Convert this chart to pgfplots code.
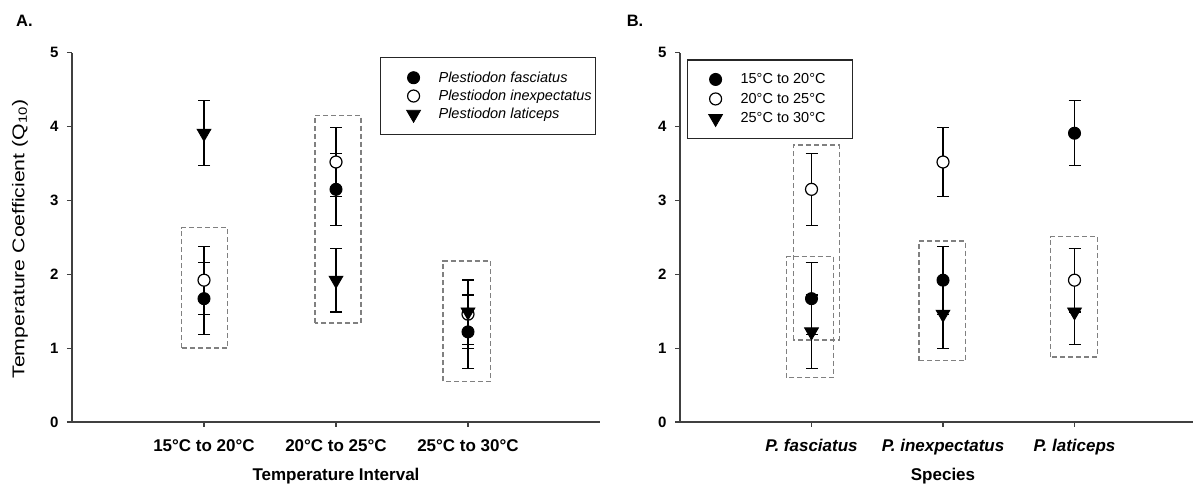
\documentclass[border=0pt]{standalone}
\usepackage{fontspec}
\setmainfont{Liberation Sans}
\usepackage{pgfplots}
\pgfplotsset{compat=1.18}
\usepackage{pgfplotstable}

% Panel A: rows = temperature interval, columns = species (mean, SE)
\pgfplotstableread{
int fas fasE inx inxE lat latE
0 1.67 0.49 1.92 0.46 3.91 0.44
1 3.15 0.49 3.52 0.47 1.92 0.43
2 1.22 0.50 1.46 0.46 1.49 0.44
}\tblA
% Panel B: rows = species, columns = interval (mean, SE)
\pgfplotstableread{
sp ta taE tb tbE tc tcE
0 1.67 0.49 3.15 0.49 1.22 0.50
1 1.92 0.46 3.52 0.47 1.46 0.46
2 3.91 0.44 1.92 0.43 1.49 0.44
}\tblB

\definecolor{axisgray}{gray}{0.25}
\definecolor{boxgray}{gray}{0.5}

\tikzset{dbox/.style={draw=boxgray, line width=1.3pt, dash pattern=on 5pt off 3pt}}

\pgfplotsset{
  legA/.style={legend image code/.code={\path[draw=none,fill=none] (0pt,-6pt) rectangle (54pt,6pt); \draw[##1] plot coordinates {(29pt,0pt)};}},
  legB/.style={legend image code/.code={\path[draw=none,fill=none] (0pt,-6pt) rectangle (49pt,6pt); \draw[##1] plot coordinates {(24pt,0pt)};}},
  panel/.style={
    scale only axis, anchor=south west,
    height=369.3pt,
    xmin=-1, xmax=3, ymin=0, ymax=5,
    axis lines=left, axis line style={-, axisgray, line width=1.2pt},
    tick align=outside, major tick length=5pt,
    tick style={axisgray, line width=1.2pt},
    xtick={0,1,2}, ytick={0,1,2,3,4,5},
    /pgf/number format/assume math mode=true,
    yticklabel style={font=\fontsize{15}{18}\selectfont\bfseries, xshift=-5pt},
    xticklabel style={font=\fontsize{17}{20}\selectfont\bfseries, yshift=-9pt},
    xlabel style={at={(axis description cs:0.5,0)}, anchor=north, yshift=-43pt, font=\fontsize{17}{20}\selectfont\bfseries},
    legend cell align=left,
    legend style={draw=black!85, line width=1.2pt, fill=white, inner xsep=4pt, inner ysep=12.5pt,
      nodes={inner xsep=0pt, inner ysep=0pt, text height=12pt, text depth=3pt}},
    error bars/y dir=both, error bars/y explicit,
    error bars/error bar style={black, line width=1.2pt},
    error bars/error mark options={rotate=90, black, line width=1.2pt, mark size=6pt},
  },
  fillc/.style={black, mark=*, mark size=6pt, mark options={fill=black, draw=black, line width=1pt}},
  openc/.style={black, mark=*, mark size=6pt, mark options={fill=white, draw=black, line width=1.2pt}},
  tri/.style={black, mark=triangle*, mark size=8pt, mark options={fill=black, draw=black, line width=0.8pt, rotate=180}},
}

\begin{document}
\begin{tikzpicture}
\useasboundingbox (0,0) rectangle (1193pt,486pt);
\clip (0,0) rectangle (1193pt,486pt);

\node[font=\fontsize{16.5}{19}\selectfont\bfseries] at (24.5pt,465pt) {A.};
\node[font=\fontsize{16.5}{19}\selectfont\bfseries] at (635pt,465pt) {B.};

% ---------------- Panel A ----------------
\begin{axis}[panel, at={(72pt,64pt)}, width=528pt,
  xticklabels={15°C to 20°C, 20°C to 25°C, 25°C to 30°C},
  xlabel={Temperature Interval},
  ylabel={\scalebox{1.25}[1]{Temperature Coefficient (Q\textsubscript{10})}},
  ylabel style={at={(axis description cs:-0.0985,0.4955)}, anchor=center, font=\fontsize{17}{20}\selectfont},
  every axis plot/.append style={only marks, legA},
  legend style={at={(0.5833,0.988)}, anchor=north west, row sep=3.3pt, font=\fontsize{14.5}{17}\selectfont\itshape},
]
\draw[dbox] (axis cs:-0.17,1.00) rectangle (axis cs:0.18,2.63);
\draw[dbox] (axis cs:0.84,1.34) rectangle (axis cs:1.19,4.15);
\draw[dbox] (axis cs:1.81,0.55) rectangle (axis cs:2.17,2.18);
\addplot[fillc] table[x=int, y=fas, y error=fasE] {\tblA};
\addlegendentry{Plestiodon fasciatus}
\addplot[openc] table[x=int, y=inx, y error=inxE] {\tblA};
\addlegendentry{Plestiodon inexpectatus}
\addplot[tri] table[x=int, y=lat, y error=latE] {\tblA};
\addlegendentry{Plestiodon laticeps}
\end{axis}

% ---------------- Panel B ----------------
\begin{axis}[panel, at={(680pt,64pt)}, width=526pt,
  xticklabels={\itshape P. fasciatus, \itshape P. inexpectatus, \itshape P. laticeps},
  xlabel={Species},
  every axis plot/.append style={only marks, legB},
  legend style={at={(0.0133,0.982)}, anchor=north west, inner ysep=12pt, row sep=4.5pt, font=\fontsize{14.5}{17}\selectfont},
]
\draw[dbox] (axis cs:-0.138,1.11) rectangle (axis cs:0.211,3.75);
\draw[dbox] (axis cs:-0.189,0.60) rectangle (axis cs:0.166,2.24);
\draw[dbox] (axis cs:0.817,0.83) rectangle (axis cs:1.173,2.45);
\draw[dbox] (axis cs:1.817,0.88) rectangle (axis cs:2.173,2.51);
\addplot[fillc] table[x=sp, y=ta, y error=taE] {\tblB};
\addlegendentry{15°C to 20°C\hspace*{23pt}\mbox{}}
\addplot[openc] table[x=sp, y=tb, y error=tbE] {\tblB};
\addlegendentry{20°C to 25°C\hspace*{23pt}\mbox{}}
\addplot[tri] table[x=sp, y=tc, y error=tcE] {\tblB};
\addlegendentry{25°C to 30°C\hspace*{23pt}\mbox{}}
\end{axis}
\end{tikzpicture}
\end{document}
